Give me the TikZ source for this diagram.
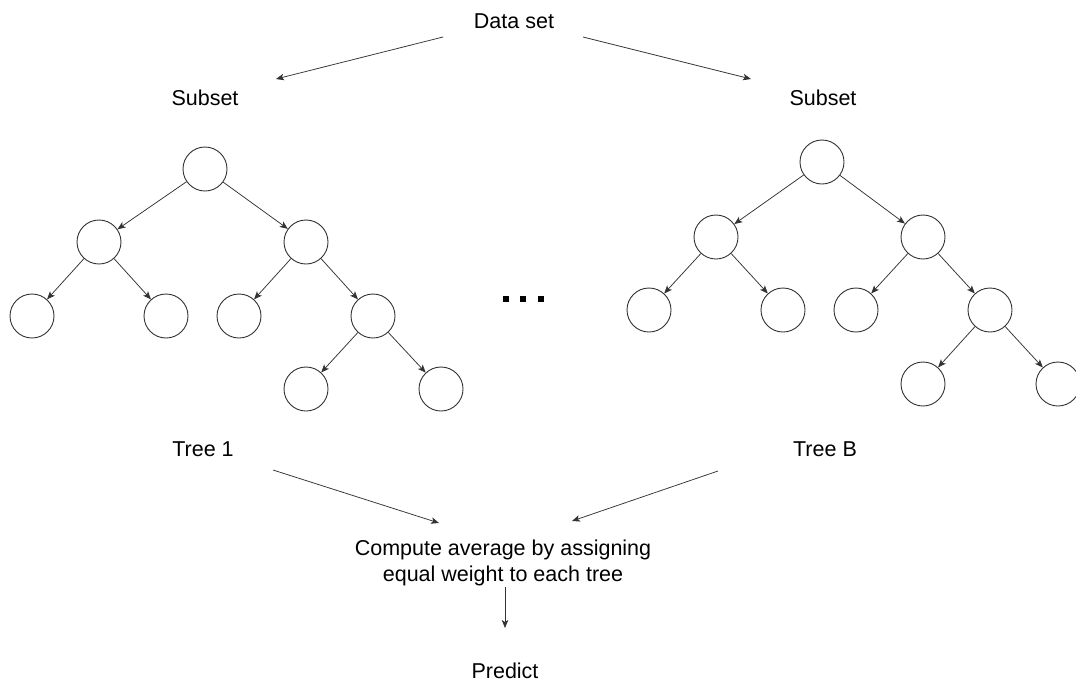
\documentclass[tikz,border=0pt]{standalone}
\usepackage{fontspec}
\setmainfont{Liberation Sans}
\usetikzlibrary{arrows.meta}
\definecolor{ln}{HTML}{333333}
\tikzset{
  lbl/.style={font=\fontsize{21.5}{26.5}\selectfont, inner sep=0pt, text=black},
  tn/.style={circle, draw=ln, minimum size=44pt, inner sep=0pt, line width=0.9pt},
  arr/.style={draw=ln, line width=0.75pt, -{Stealth[length=8pt,width=6.5pt,inset=2pt]}},
  dotsq/.style={rectangle, fill=black, minimum size=6pt, inner sep=0pt}
}
\begin{document}
\begin{tikzpicture}[x=1pt,y=-1pt]
\useasboundingbox[fill=white] (0,0) rectangle (1076,681);
% texts
\node[lbl, anchor=base] (dataset) at (514,28) {Data set};
\node[lbl, anchor=base] (subL) at (205,105) {Subset};
\node[lbl, anchor=base] (subR) at (823,105) {Subset};
\node[lbl, anchor=base] (tree1) at (203,456) {Tree 1};
\node[lbl, anchor=base] (treeB) at (825,456) {Tree B};
\node[lbl, align=center] (compute) at (503,563) {Compute average by assigning\\equal weight to each tree};
\node[lbl, anchor=base] (predict) at (505,678) {Predict};
% left tree
\node[tn] (Lr) at (205,169) {};
\node[tn] (La) at (99,242) {};
\node[tn] (Lb) at (306,242) {};
\node[tn] (Laa) at (32,316) {};
\node[tn] (Lab) at (166,316) {};
\node[tn] (Lba) at (239,316) {};
\node[tn] (Lbb) at (373,316) {};
\node[tn] (Lbba) at (306,389) {};
\node[tn] (Lbbb) at (441,389) {};
\draw[arr] (Lr) -- (La);
\draw[arr] (Lr) -- (Lb);
\draw[arr] (La) -- (Laa);
\draw[arr] (La) -- (Lab);
\draw[arr] (Lb) -- (Lba);
\draw[arr] (Lb) -- (Lbb);
\draw[arr] (Lbb) -- (Lbba);
\draw[arr] (Lbb) -- (Lbbb);
% right tree
\node[tn] (Rr) at (822,162) {};
\node[tn] (Ra) at (716,237) {};
\node[tn] (Rb) at (923,237) {};
\node[tn] (Raa) at (649,310) {};
\node[tn] (Rab) at (783,310) {};
\node[tn] (Rba) at (856,310) {};
\node[tn] (Rbb) at (990,310) {};
\node[tn] (Rbba) at (923,384) {};
\node[tn] (Rbbb) at (1058,384) {};
\draw[arr] (Rr) -- (Ra);
\draw[arr] (Rr) -- (Rb);
\draw[arr] (Ra) -- (Raa);
\draw[arr] (Ra) -- (Rab);
\draw[arr] (Rb) -- (Rba);
\draw[arr] (Rb) -- (Rbb);
\draw[arr] (Rbb) -- (Rbba);
\draw[arr] (Rbb) -- (Rbbb);
% dots
\node[dotsq] (d1) at (506,299) {};
\node[dotsq] (d2) at (523,299) {};
\node[dotsq] (d3) at (541,299) {};
% connector end points
\coordinate (dsL) at (443,37);
\coordinate (dsR) at (583,37);
\coordinate (subLin) at (276,79);
\coordinate (subRin) at (751,79);
\coordinate (t1out) at (273,470);
\coordinate (tBout) at (718,471);
\coordinate (cmpL) at (439,523);
\coordinate (cmpR) at (572,521);
\coordinate (cmpOut) at (505,587);
\coordinate (predIn) at (505,628);
\draw[arr] (dsL) -- (subLin);
\draw[arr] (dsR) -- (subRin);
\draw[arr] (t1out) -- (cmpL);
\draw[arr] (tBout) -- (cmpR);
\draw[arr] (cmpOut) -- (predIn);
\end{tikzpicture}
\end{document}
